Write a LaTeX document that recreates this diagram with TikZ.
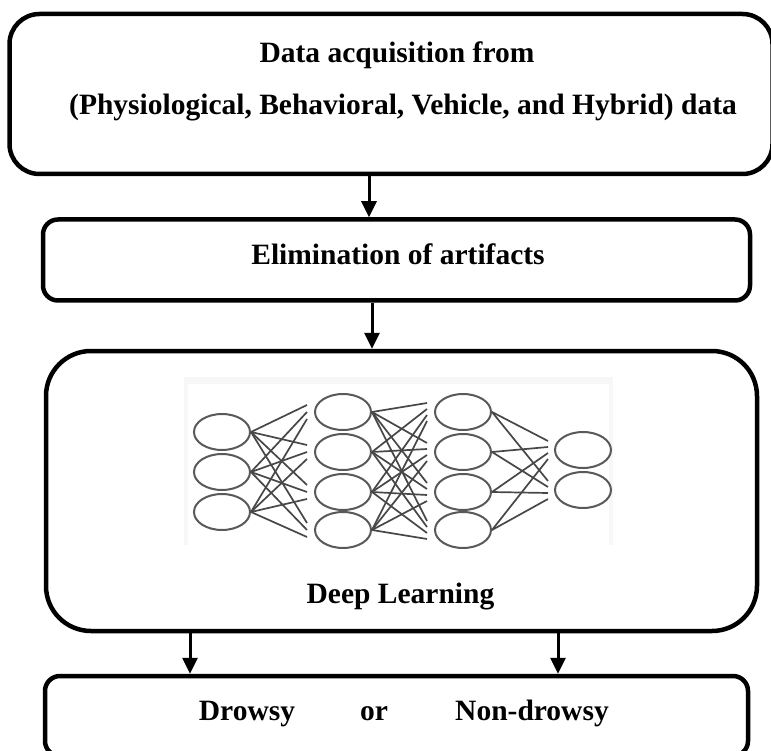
\documentclass[tikz,border=0pt]{standalone}
\usepackage{fontspec}
\setmainfont{Liberation Serif}
\usetikzlibrary{arrows.meta,shapes.geometric,calc}
\begin{document}
\begin{tikzpicture}[x=1pt,y=-1pt,
  box/.style={draw=black,line width=4.5pt,inner sep=0pt},
  lbl/.style={font=\fontsize{29.5}{33}\selectfont\bfseries,inner sep=0pt,anchor=base},
  arr/.style={line width=3pt,-{Triangle[length=16pt,width=15pt]}},
  neuron/.style={ellipse,draw=black!65,line width=2pt,minimum width=56pt,minimum height=36pt,inner sep=0pt},
  link/.style={draw=black!72,line width=1.7pt}]
\useasboundingbox (0,0) rectangle (771,751);
\clip (0,0) rectangle (771,751);
% boxes
\node[box,rounded corners=30pt,minimum width=763pt,minimum height=160pt] (box1) at (391,94) {};
\node[box,rounded corners=15pt,minimum width=707pt,minimum height=81pt] (box2) at (396.5,260) {};
\node[box,rounded corners=45pt,minimum width=711pt,minimum height=280pt] (box3) at (401.5,491) {};
\node[box,rounded corners=15pt,minimum width=703pt,minimum height=80pt] (box4) at (396.5,716) {};
% texts
\node[lbl] (t1) at (397,63) {Data acquisition from};
\node[lbl] (t2) at (403,115) {(Physiological, Behavioral, Vehicle, and Hybrid) data};
\node[lbl] (t3) at (398,265) {Elimination of artifacts};
\node[lbl] (t4) at (400.5,603) {Deep Learning};
\node[lbl] (t5) at (247,720) {Drowsy};
\node[lbl] (t6) at (374,720) {or};
\node[lbl] (t7) at (532,720) {Non-drowsy};
% arrows
\coordinate (a1) at (369,0);
\coordinate (a2) at (372,0);
\coordinate (a3) at (190,0);
\coordinate (a4) at (558,0);
\draw[arr] (box1.south -| a1) -- (box2.north -| a1);
\draw[arr] (box2.south -| a2) -- (box3.north -| a2);
\draw[arr] (box3.south -| a3) -- (box4.north -| a3);
\draw[arr] (box3.south -| a4) -- (box4.north -| a4);
% neural network picture
\fill[black!3] (184,377) rectangle (613,545);
\fill[white] (188,384) rectangle (609,545);
\node[neuron] (n1-1) at (222,432) {};
\node[neuron] (n1-2) at (222,472) {};
\node[neuron] (n1-3) at (222,512) {};
\foreach \j/\y in {1/412,2/452,3/492,4/530}{
  \node[neuron] (n2-\j) at (343,\y) {};
  \node[neuron] (n3-\j) at (463,\y) {};
}
\node[neuron] (n4-1) at (583,450) {};
\node[neuron] (n4-2) at (583,490) {};
\foreach \i in {1,2,3}{
  \foreach \j in {1,2,3,4}{
    \draw[link] (n1-\i.east) -- ([xshift=-7pt,yshift={(2-\i)*7pt}]n2-\j.west);
  }
}
\foreach \i in {1,2,3,4}{
  \foreach \j in {1,2,3,4}{
    \draw[link] (n2-\i.east) -- ([xshift=-7pt,yshift={(2.5-\i)*6pt}]n3-\j.west);
  }
  \foreach \j in {1,2}{
    \draw[link] (n3-\i.east) -- ([xshift=-6pt,yshift={(2.5-\i)*6pt}]n4-\j.west);
  }
}
\end{tikzpicture}
\end{document}
